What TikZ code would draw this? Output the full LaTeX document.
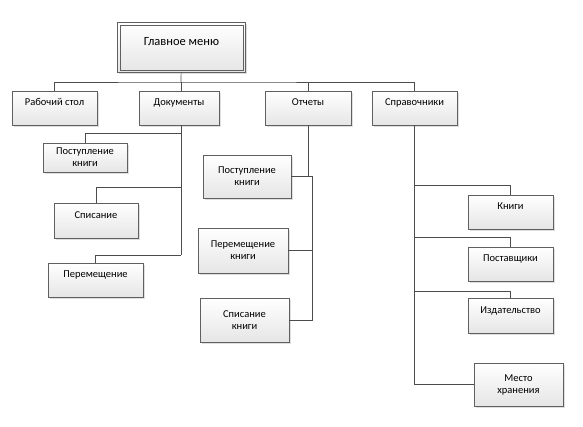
\documentclass[tikz,border=0pt]{standalone}
\usepackage{fontspec}
\setmainfont{Carlito}
\usepackage{tikz}
\usetikzlibrary{positioning,shadows}

\tikzset{
  box/.style={draw=gray!75!black, line width=0.5pt, top color=white, bottom color=gray!20,
    drop shadow={opacity=0.25, shadow xshift=1.5pt, shadow yshift=-1.5pt},
    align=center, inner sep=2pt, font=\fontsize{10.5}{12}\selectfont,
    minimum width=85pt, minimum height=34pt},
  upper/.style={text height=8pt, text depth=13pt},
  link/.style={draw=black!70, line width=0.7pt}
}

\begin{document}
\begin{tikzpicture}[x=1pt, y=-1pt]
\useasboundingbox (0,0) rectangle (583,426);
% main
\node[box, upper, line width=0.8pt, minimum width=128pt, minimum height=50pt,
  font=\fontsize{12.5}{14}\selectfont] (menu) at (181.5,47.5) {Главное меню};
\draw[draw=gray!75!black, line width=0.8pt] ([shift={(2.8,2.8)}]menu.north west) rectangle ([shift={(-2.8,-2.8)}]menu.south east);
\node[box, upper] (rab) at (54.5,108) {Рабочий стол};
\node[box, upper, minimum width=80pt] (doc) at (179,108) {Документы};
\node[box, upper, minimum width=86pt] (otch) at (308,108) {Отчеты};
\node[box, upper] (sprav) at (414.5,108) {Справочники};
% documents
\node[box, minimum width=84pt, minimum height=29pt] (dpost) at (85,157.5) {Поступление\\книги};
\node[box, upper, minimum width=84pt, minimum height=35pt] (dspis) at (96,220.5) {Списание};
\node[box, upper, minimum width=95pt] (dperem) at (95.5,280) {Перемещение};
% reports
\node[box, minimum width=88pt, minimum height=43pt] (opost) at (247,176.5) {Поступление\\книги};
\node[box, minimum width=90pt, minimum height=45pt] (operem) at (243,250.5) {Перемещение\\книги};
\node[box, minimum width=89pt, minimum height=44pt] (ospis) at (244.5,320) {Списание\\книги};
% references
\node[box, upper] (knigi) at (510.5,212) {Книги};
\node[box, upper] (postav) at (510.5,264) {Поставщики};
\node[box, upper, minimum height=35pt] (izd) at (510.5,315.5) {Издательство};
\node[box, minimum width=89pt, minimum height=43pt] (mesto) at (518.5,384.5) {Место\\хранения};

\coordinate (bus) at (181,82);
\draw[link] (menu) -- (bus);
\draw[link] (rab.north) |- (bus) -| (sprav.north);
\draw[link] (bus) -- (bus |- doc.north);
\draw[link] (bus -| otch.north) -- (otch.north);

\coordinate (d1) at (181,133);
\coordinate (d2) at (181,187);
\coordinate (d3) at (181,255);
\draw[link] (bus |- doc.south) -- (d3);
\draw[link] (d1) -| (dpost.north);
\draw[link] (d2) -| (dspis.north);
\draw[link] (d3) -| (dperem.north);

\coordinate (otr) at (312,0);
\draw[link] (otch.south) -- (otch.south |- opost.east);
\draw[link] (opost.east) -| (otr |- ospis.east) -- (ospis.east);
\draw[link] (operem.east) -- (otr |- operem.east);

\coordinate (s1) at (414,185);
\coordinate (s2) at (414,237);
\coordinate (s3) at (414,291);
\draw[link] (sprav.south) |- (mesto.west);
\draw[link] (s1) -| (knigi.north);
\draw[link] (s2) -| (postav.north);
\draw[link] (s3) -| (izd.north);
\end{tikzpicture}
\end{document}
